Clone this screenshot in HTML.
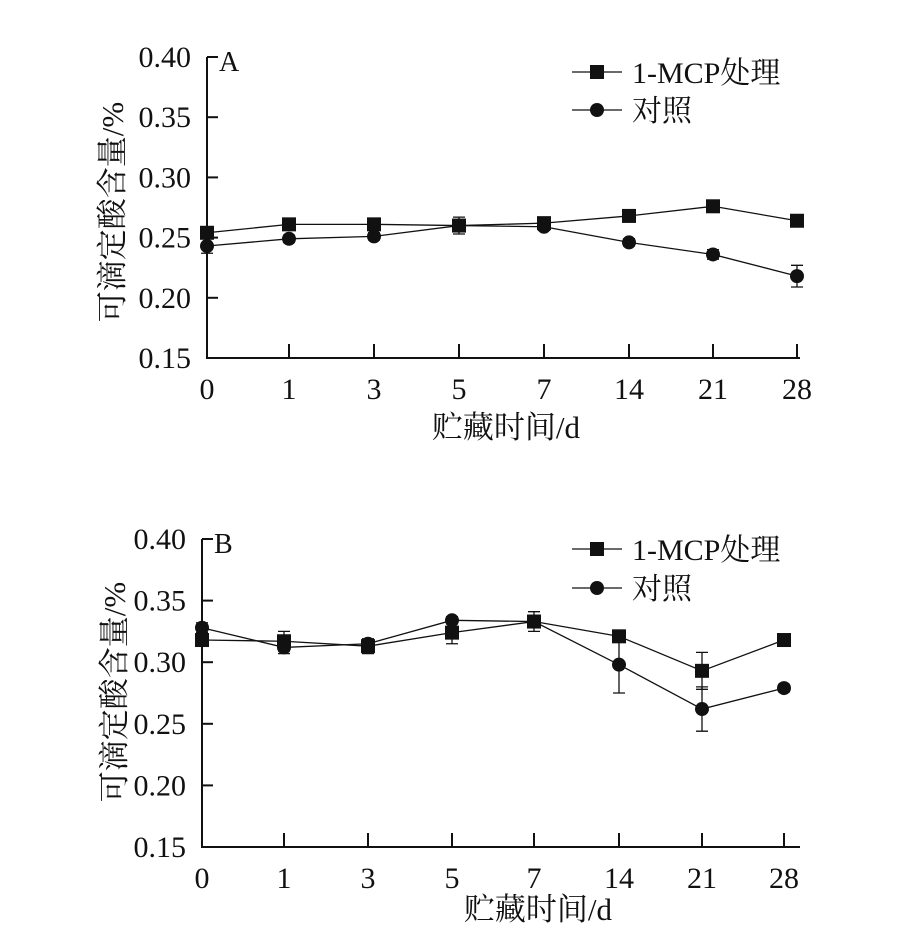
<!DOCTYPE html>
<html><head><meta charset="utf-8"><style>
body{margin:0;background:#fff}
svg text{font-family:"Liberation Serif","Noto Serif CJK SC",serif;fill:#111}
</style></head><body>
<svg id="s" width="908" height="940" xmlns="http://www.w3.org/2000/svg"></svg>
<script>
const s=document.getElementById('s');let h='';
function chart(o){
 const ax=o.ax,y0=o.y15,st=o.step,xs=o.xs,end=o.end;
 const Y=v=>y0-(v-0.15)/0.05*st;
 h+=`<path d="M${ax} ${Y(0.4)}V${y0}H${end}" stroke="#111" stroke-width="2" fill="none"/>`;
 ['0.15','0.20','0.25','0.30','0.35','0.40'].forEach(t=>{const y=Y(+t);
  if(+t>0.15)h+=`<line x1="${ax}" x2="${ax+11}" y1="${y}" y2="${y}" stroke="#111" stroke-width="2"/>`;
  h+=`<text x="${ax-16}" y="${y+10}" font-size="30" text-anchor="end">${t}</text>`;});
 h+=`<text x="${ax+12}" y="${Y(0.4)+14}" font-size="28">${o.lab}</text>`;
 ['0','1','3','5','7','14','21','28'].forEach((t,i)=>{
  if(i>0)h+=`<line x1="${xs[i]}" x2="${xs[i]}" y1="${y0}" y2="${y0-14}" stroke="#111" stroke-width="2"/>`;
  h+=`<text x="${xs[i]}" y="${y0+41}" font-size="30" text-anchor="middle">${t}</text>`;});
 h+=`<text x="${o.xl[0]}" y="${o.xl[1]}" font-size="31" text-anchor="middle">贮藏时间/d</text>`;
 h+=`<text transform="translate(${o.yl[0]},${o.yl[1]}) rotate(-90)" font-size="31" text-anchor="middle">可滴定酸含量/%</text>`;
 [[o.sq,o.se,'s'],[o.ci,o.ce,'c']].forEach(([d,e,k])=>{
  h+=`<polyline points="${d.map((v,i)=>xs[i]+','+Y(v)).join(' ')}" fill="none" stroke="#111" stroke-width="1.3"/>`;
  d.forEach((v,i)=>{const x=xs[i],y=Y(v),ee=e[i]/0.05*st;
   h+=`<path d="M${x} ${y-ee}V${y+ee}M${x-6} ${y-ee}H${x+6}M${x-6} ${y+ee}H${x+6}" stroke="#111" stroke-width="1.3"/>`;
   h+=k=='s'?`<rect x="${x-7}" y="${y-7}" width="14" height="14" fill="#111"/>`:`<circle cx="${x}" cy="${y}" r="7" fill="#111"/>`;});
 });
 const L=o.leg;
 h+=`<line x1="572" x2="622" y1="${L[0]}" y2="${L[0]}" stroke="#111" stroke-width="1.3"/><rect x="590" y="${L[0]-7}" width="14" height="14" fill="#111"/><text x="632" y="${L[0]+11}" font-size="30">1-MCP处理</text>`;
 h+=`<line x1="572" x2="622" y1="${L[1]}" y2="${L[1]}" stroke="#111" stroke-width="1.3"/><circle cx="597" cy="${L[1]}" r="7" fill="#111"/><text x="632" y="${L[1]+11}" font-size="30">对照</text>`;
}
chart({ax:207,y15:358,step:60.2,end:800,xs:[207,289,374,459,544,629,713,797],lab:'A',
 sq:[.254,.261,.261,.26,.262,.268,.276,.264],se:[.003,.004,.005,.007,.004,.003,.004,.003],
 ci:[.243,.249,.251,.26,.259,.246,.236,.218],ce:[.006,.003,.003,.004,.003,.003,.004,.009],
 xl:[506,438],yl:[123,212],leg:[72,110]});
chart({ax:202,y15:847,step:61.6,end:800,xs:[202,284,368,452,534,619,702,784],lab:'B',
 sq:[.318,.317,.313,.324,.333,.321,.293,.318],se:[.005,.008,.006,.009,.008,.004,.015,.003],
 ci:[.328,.312,.315,.334,.333,.298,.262,.279],ce:[.004,.005,.003,.003,.005,.023,.018,.003],
 xl:[538,920],yl:[125,692],leg:[549,588]});
s.innerHTML=h;
</script></body></html>
